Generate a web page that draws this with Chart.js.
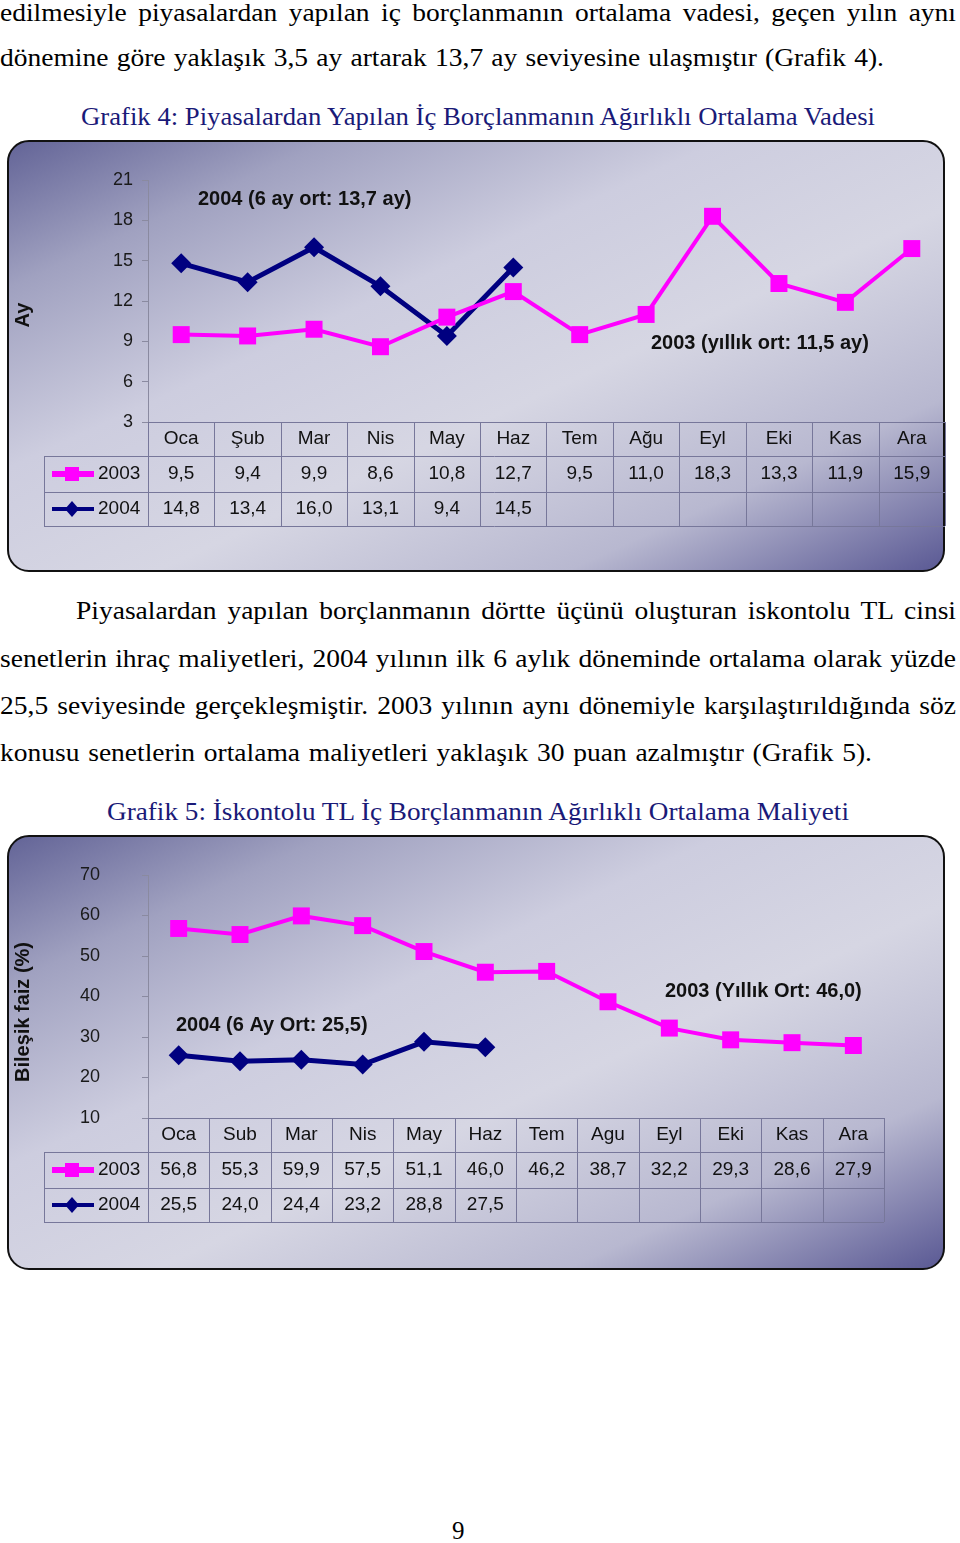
<!DOCTYPE html>
<html lang="tr">
<head>
<meta charset="utf-8">
<script src="https://cdn.jsdelivr.net/npm/chart.js@4.4.0/dist/chart.umd.min.js"></script>
<style>
html, body { margin: 0; padding: 0; background: #fff; }
body { width: 960px; height: 1543px; position: relative; overflow: hidden; font-family: "Liberation Serif", serif; }
.satir { position: absolute; white-space: nowrap; font-size: 25px; line-height: 30px; color: #000; transform-origin: 0 50%; }
.baslik { color: #1a1a78; }
.kutu { position: absolute; left: 7px; width: 938px; box-sizing: border-box; border: 2px solid #111; border-radius: 22px;
  background: linear-gradient(to bottom right, #636497 0%, #a0a1c0 17%, #cdcddf 38%, #d6d6e3 58%, #b8b8d0 80%, #5a5994 100%); }
canvas { position: absolute; left: 7px; }
</style>
</head>
<body>

<div class="satir" data-w="956" style="left:0; top:-2px;">edilmesiyle piyasalardan yapılan iç borçlanmanın ortalama vadesi, geçen yılın aynı</div>
<div class="satir" data-w="884" style="left:0; top:43px;">dönemine göre yaklaşık 3,5 ay artarak 13,7 ay seviyesine ulaşmıştır (Grafik 4).</div>
<div class="satir baslik" data-w="794" style="left:81px; top:102px;">Grafik 4: Piyasalardan Yapılan İç Borçlanmanın Ağırlıklı Ortalama Vadesi</div>

<div class="kutu" style="top:140px; height:432px;"></div>
<canvas id="grafik4" width="950" height="432" style="top:140px; width:950px; height:432px;"></canvas>

<div class="satir" data-w="880" style="left:76px; top:596px;">Piyasalardan yapılan borçlanmanın dörtte üçünü oluşturan iskontolu TL cinsi</div>
<div class="satir" data-w="956" style="left:0; top:644px;">senetlerin ihraç maliyetleri, 2004 yılının ilk 6 aylık döneminde ortalama olarak yüzde</div>
<div class="satir" data-w="956" style="left:0; top:691px;">25,5 seviyesinde gerçekleşmiştir. 2003 yılının aynı dönemiyle karşılaştırıldığında söz</div>
<div class="satir" data-w="872" style="left:0; top:738px;">konusu senetlerin ortalama maliyetleri yaklaşık 30 puan azalmıştır (Grafik 5).</div>
<div class="satir baslik" data-w="742" style="left:107px; top:797px;">Grafik 5: İskontolu TL İç Borçlanmanın Ağırlıklı Ortalama Maliyeti</div>

<div class="kutu" style="top:835px; height:435px;"></div>
<canvas id="grafik5" width="950" height="435" style="top:835px; width:950px; height:435px;"></canvas>

<div class="satir" style="left:452px; top:1516px;">9</div>

<script>
// VERİLER
const aylar4 = ["Oca", "Şub", "Mar", "Nis", "May", "Haz", "Tem", "Ağu", "Eyl", "Eki", "Kas", "Ara"];
const aylar5 = ["Oca", "Sub", "Mar", "Nis", "May", "Haz", "Tem", "Agu", "Eyl", "Eki", "Kas", "Ara"];
const seriler = ["2003", "2004"];

// Grafik 4: vade (ay)
const vade2003 = [9.5, 9.4, 9.9, 8.6, 10.8, 12.7, 9.5, 11.0, 18.3, 13.3, 11.9, 15.9];
const vade2004 = [14.8, 13.4, 16.0, 13.1, 9.4, 14.5, null, null, null, null, null, null];
const vadeEksen = [3, 21, 3]; // min, max, adım

// Grafik 5: bileşik faiz (%)
const faiz2003 = [56.8, 55.3, 59.9, 57.5, 51.1, 46.0, 46.2, 38.7, 32.2, 29.3, 28.6, 27.9];
const faiz2004 = [25.5, 24.0, 24.4, 23.2, 28.8, 27.5, null, null, null, null, null, null];
const faizEksen = [10, 70, 10];

const PEMBE = "#ff00ff";
const LACIVERT = "#000080";
const YAZI = '"Liberation Sans", Arial, sans-serif';

// METİN SATIRLARI: yatay ölçek + kelime aralığıyla hedef genişliğe yay
document.querySelectorAll(".satir[data-w]").forEach(el => {
    const hedef = +el.dataset.w;
    const w = el.getBoundingClientRect().width;
    const s = Math.min(hedef / w, 1.1);
    el.style.transform = "scaleX(" + s + ")";
    const bosluk = (el.textContent.match(/ /g) || []).length;
    if (bosluk) el.style.wordSpacing = ((hedef - w * s) / bosluk / s) + "px";
});

function sayi(v) {
    return v === null ? "" : v.toFixed(1).replace(".", ",");
}

// TABLO + NOTLAR
function tabloEklentisi(o) {
    return {
        id: "tablo",
        afterDraw(chart) {
            const ctx = chart.ctx;
            const x = chart.scales.x;
            const a = chart.chartArea;
            const yarim = (x.getPixelForValue(1) - x.getPixelForValue(0)) / 2;
            const n = o.aylar.length;
            const sag = x.getPixelForValue(n - 1) + yarim;
            const ust = a.bottom;
            const s1 = ust + 34, s2 = ust + 70, alt = ust + 104;
            const solKenar = 37;

            ctx.save();
            ctx.strokeStyle = "#77779a";
            ctx.lineWidth = 1;
            ctx.beginPath();
            ctx.moveTo(a.left, ust + 0.5); ctx.lineTo(sag, ust + 0.5);
            [s1, s2, alt].forEach(yy => { ctx.moveTo(solKenar, yy + 0.5); ctx.lineTo(sag, yy + 0.5); });
            ctx.moveTo(solKenar + 0.5, s1); ctx.lineTo(solKenar + 0.5, alt);
            for (let i = 0; i <= n; i++) {
                const xx = Math.round(x.getPixelForValue(i) - yarim) + 0.5;
                ctx.moveTo(xx, ust); ctx.lineTo(xx, alt);
            }
            ctx.stroke();

            ctx.fillStyle = "#111";
            ctx.font = "19px " + YAZI;
            ctx.textAlign = "center";
            ctx.textBaseline = "middle";
            o.aylar.forEach((ay, i) => {
                const cx = x.getPixelForValue(i);
                ctx.fillText(ay, cx, ust + 17);
                ctx.fillText(sayi(o.veri[0][i]), cx, s1 + 18);
                ctx.fillText(sayi(o.veri[1][i]), cx, s2 + 17);
            });

            // lejant
            ctx.textAlign = "left";
            ctx.fillText(seriler[0], 91, s1 + 18);
            ctx.fillText(seriler[1], 91, s2 + 17);
            ctx.lineWidth = 6;
            ctx.strokeStyle = PEMBE;
            ctx.beginPath(); ctx.moveTo(45, s1 + 18); ctx.lineTo(87, s1 + 18); ctx.stroke();
            ctx.fillStyle = PEMBE;
            ctx.fillRect(58, s1 + 11, 14, 14);
            ctx.lineWidth = 4;
            ctx.strokeStyle = LACIVERT;
            ctx.beginPath(); ctx.moveTo(45, s2 + 17); ctx.lineTo(87, s2 + 17); ctx.stroke();
            ctx.fillStyle = LACIVERT;
            ctx.beginPath();
            ctx.moveTo(65, s2 + 9); ctx.lineTo(72, s2 + 17); ctx.lineTo(65, s2 + 25); ctx.lineTo(58, s2 + 17);
            ctx.closePath(); ctx.fill();

            // notlar
            ctx.fillStyle = "#111";
            ctx.font = "bold 20px " + YAZI;
            o.notlar.forEach(nt => ctx.fillText(nt[0], nt[1], nt[2]));

            // eksen başlığı
            ctx.font = "bold 20px " + YAZI;
            ctx.translate(16, o.baslikY);
            ctx.rotate(-Math.PI / 2);
            ctx.textAlign = "center";
            ctx.fillText(o.baslik, 0, 0);
            ctx.restore();
        }
    };
}

function grafikCiz(id, o) {
    return new Chart(document.getElementById(id), {
        type: "line",
        data: {
            labels: o.aylar,
            datasets: [
                {
                    label: seriler[0], data: o.veri[0],
                    borderColor: PEMBE, backgroundColor: PEMBE, borderWidth: 4,
                    pointStyle: "rect", pointRadius: 12, pointBorderWidth: 0
                },
                {
                    label: seriler[1], data: o.veri[1],
                    borderColor: LACIVERT, backgroundColor: LACIVERT, borderWidth: 5,
                    pointStyle: "rectRot", pointRadius: 10, pointBorderWidth: 0
                }
            ]
        },
        options: {
            responsive: false,
            animation: false,
            events: [],
            layout: { padding: { left: 0, top: 40, right: o.sagBosluk, bottom: o.altBosluk } },
            plugins: { legend: { display: false }, tooltip: { enabled: false } },
            elements: { line: { tension: 0 } },
            scales: {
                x: { type: "category", display: false, offset: true },
                y: {
                    min: o.eksen[0], max: o.eksen[1],
                    afterFit: s => { s.width = 141; s.paddingTop = 11; s.paddingBottom = 11; },
                    ticks: { stepSize: o.eksen[2], padding: o.etiketBosluk, color: "#1a1a1a", font: { family: YAZI, size: 18 } },
                    grid: { drawOnChartArea: false, drawTicks: true, tickLength: 6, color: "#8a8aa0" },
                    border: { display: true, color: "#8a8aa0" }
                }
            }
        },
        plugins: [tabloEklentisi(o)]
    });
}

grafikCiz("grafik4", {
    aylar: aylar4,
    veri: [vade2003, vade2004],
    eksen: vadeEksen,
    sagBosluk: 12,
    altBosluk: 150,
    etiketBosluk: 9,
    baslik: "Ay",
    baslikY: 175,
    notlar: [["2004 (6 ay ort: 13,7 ay)", 191, 59], ["2003 (yıllık ort: 11,5 ay)", 644, 203]]
});

grafikCiz("grafik5", {
    aylar: aylar5,
    veri: [faiz2003, faiz2004],
    eksen: faizEksen,
    sagBosluk: 73,
    altBosluk: 152,
    etiketBosluk: 42,
    baslik: "Bileşik faiz (%)",
    baslikY: 177,
    notlar: [["2004 (6 Ay Ort: 25,5)", 169, 190], ["2003 (Yıllık Ort: 46,0)", 658, 156]]
});
</script>
</body>
</html>
